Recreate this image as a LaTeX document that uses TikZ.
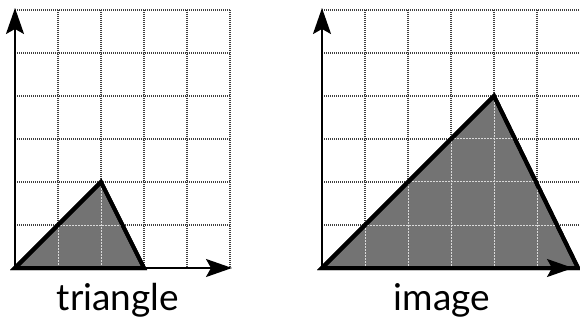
\documentclass[tikz,border=0pt]{standalone}
\usepackage{fontspec}
\setmainfont{Lato}
\usetikzlibrary{arrows.meta}
\begin{document}
\begin{tikzpicture}[x=1pt,y=-1pt,
  gridline/.style={line width=1.1pt, black!75, dash pattern=on 1pt off 1pt},
  innergrid/.style={line width=1pt, white!85!black, dash pattern=on 2pt off 1pt},
  axis/.style={line width=1.8pt, black, -{Stealth[length=26pt,width=18pt,inset=5pt]}},
  tri/.style={line width=4pt, black, line join=miter, fill=black!55},
  caption/.style={font=\fontsize{37}{40}\selectfont, anchor=base, inner sep=0pt}]
\useasboundingbox (0,0) rectangle (580,320);
% ---------- left panel ----------
\coordinate (oL) at (15,268);
\foreach \i in {0,...,5} \draw[gridline] (15+43*\i,10) -- (15+43*\i,268);
\foreach \j in {0,...,6} \draw[gridline] (15,10+43*\j) -- (230,10+43*\j);
\coordinate (aL) at (101,182);
\coordinate (bL) at (144,268);
\filldraw[tri] (oL) -- (aL) -- (bL) -- cycle;
\begin{scope}
  \clip (oL) -- (aL) -- (bL) -- cycle;
  \foreach \i in {1,2,3} \draw[innergrid] (15+43*\i,182) -- (15+43*\i,268);
  \draw[innergrid] (15,225) -- (144,225);
\end{scope}
\draw[tri,fill=none] (oL) -- (aL) -- (bL) -- cycle;
\coordinate (yL) at (15,8);
\coordinate (xL) at (232,268);
\draw[axis] (oL) -- (yL);
\draw[axis] (oL) -- (xL);
\node[caption] (capL) at (118,310) {triangle};
% ---------- right panel ----------
\coordinate (oR) at (322,268);
\foreach \i in {0,...,5} \draw[gridline] (322+43*\i,10) -- (322+43*\i,268);
\foreach \j in {0,...,6} \draw[gridline] (322,10+43*\j) -- (580,10+43*\j);
\coordinate (aR) at (494,96);
\coordinate (bR) at (578,268);
\filldraw[tri] (oR) -- (aR) -- (bR) -- cycle;
\begin{scope}
  \clip (oR) -- (aR) -- (bR) -- cycle;
  \foreach \i in {1,...,5} \draw[innergrid] (322+43*\i,96) -- (322+43*\i,268);
  \foreach \j in {3,4,5} \draw[innergrid] (322,10+43*\j) -- (580,10+43*\j);
\end{scope}
\draw[tri,fill=none] (oR) -- (aR) -- (bR) -- cycle;
\coordinate (yR) at (322,8);
\coordinate (xR) at (573,268);
\draw[axis] (oR) -- (yR);
\draw[axis] (oR) -- (xR);
\node[caption] (capR) at (442,310) {image};
\end{tikzpicture}
\end{document}
